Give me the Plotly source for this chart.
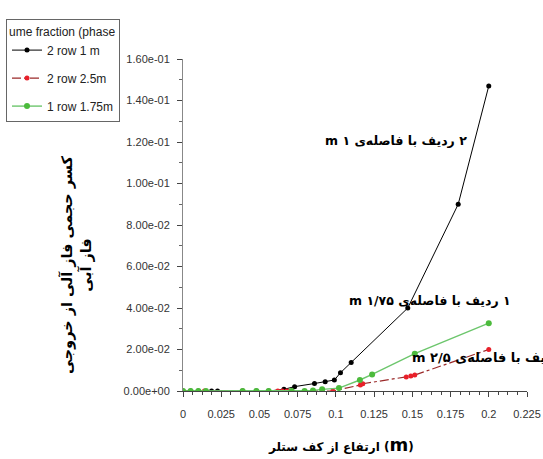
import plotly.graph_objects as go

# ---- data ----
x_black = [0, 0.005, 0.01, 0.0187, 0.0226, 0.039, 0.048, 0.056, 0.066, 0.073, 0.086, 0.093, 0.099, 0.103, 0.110, 0.147, 0.180, 0.200]
y_black = [0, 0, 0, 0, 0, 0, 0, 0, 0.0008, 0.0021, 0.0036, 0.0045, 0.0053, 0.0088, 0.0137, 0.040, 0.090, 0.147]

x_red = [0, 0.014, 0.039, 0.062, 0.065, 0.068, 0.071, 0.098, 0.116, 0.1176, 0.146, 0.149, 0.1516, 0.200]
y_red = [0, 0, 0, 0, 0, 0, 0, 0, 0.0029, 0.0035, 0.0068, 0.0072, 0.0077, 0.020]

x_green = [0, 0.005, 0.01, 0.015, 0.039, 0.048, 0.056, 0.071, 0.0795, 0.085, 0.091, 0.102, 0.1157, 0.1237, 0.1516, 0.200]
y_green = [0, 0, 0, 0, 0, 0, 0, 0, 0, 0.0003, 0.0008, 0.0014, 0.0053, 0.008, 0.018, 0.0327]

series_names = ["2 row 1 m", "2 row 2.5m", "1 row 1.75m"]
legend_title = "ume fraction (phase"

y_tickvals = [0, 0.02, 0.04, 0.06, 0.08, 0.10, 0.12, 0.14, 0.16]
y_ticktext = ["0.00e+00", "2.00e-02", "4.00e-02", "6.00e-02", "8.00e-02",
              "1.00e-01", "1.20e-01", "1.40e-01", "1.60e-01"]
x_tickvals = [0, 0.025, 0.05, 0.075, 0.1, 0.125, 0.15, 0.175, 0.2, 0.225]
x_ticktext = ["0", "0.025", "0.05", "0.075", "0.1", "0.125", "0.15", "0.175", "0.2", "0.225"]

label_1m = "۲ ردیف با فاصله‌ی ۱ m"
label_175 = "۱ ردیف با فاصله‌ی ۱/۷۵ m"
label_25 = "۲ ردیف با فاصله‌ی ۲/۵ m"
x_title_fa = "ارتفاع از کف ستلر"
x_title_unit = "m"
y_title = "کسر حجمی فاز آلی از خروجی<br>فاز آبی"

# ---- layout geometry ----
W, H = 543, 459
L, R, T, B = 183, 527, 59, 391
def px(x): return (x - L) / (R - L)
def py(y): return (B - y) / (B - T)

RLE, PDF = "\u202B", "\u202C"

fig = go.Figure()
fig.add_trace(go.Scatter(x=x_black, y=y_black, name=series_names[0], mode="lines+markers",
                         legendgroup="a",
                         line=dict(color="black", width=1),
                         marker=dict(color="black", size=5)))
fig.add_trace(go.Scatter(x=x_red, y=y_red, name=series_names[1], mode="lines+markers",
                         legendgroup="b",
                         line=dict(color="#9b2a2a", width=1.2, dash="dashdot"),
                         marker=dict(color="#e8202a", size=5)))
fig.add_trace(go.Scatter(x=x_green, y=y_green, name=series_names[2], mode="lines+markers",
                         legendgroup="c",
                         line=dict(color="#6cc66c", width=1.4),
                         marker=dict(color="#4cbb3c", size=6)))

ann_font = dict(family="DejaVu Sans", size=12.5, color="black")
x_title_text = ("<b>" + x_title_fa + " (<span style='font-size:18px'>" + x_title_unit + "</span>)</b>")
annotations = [
    dict(text="<b>" + RLE + label_1m + PDF + "</b>", x=px(469), y=py(140), xref="paper", yref="paper",
         xanchor="right", yanchor="middle", showarrow=False, font=ann_font),
    dict(text="<b>" + RLE + label_175 + PDF + "</b>", x=px(513), y=py(300), xref="paper", yref="paper",
         xanchor="right", yanchor="middle", showarrow=False, font=ann_font),
    dict(text="<b>" + RLE + label_25 + PDF + "</b>", x=px(410), y=py(357), xref="paper", yref="paper",
         xanchor="left", yanchor="middle", showarrow=False, font=dict(family="DejaVu Sans", size=13, color="black")),
    dict(text=x_title_text, x=px(341), y=py(444), xref="paper", yref="paper",
         xanchor="center", yanchor="middle", showarrow=False,
         font=dict(family="DejaVu Sans", size=12, color="black")),
    dict(text="<b>" + y_title + "</b>", x=px(76), y=py(265), xref="paper", yref="paper",
         xanchor="center", yanchor="middle", showarrow=False, textangle=-90,
         font=dict(family="DejaVu Sans", size=14.5, color="black")),
]

fig.update_layout(
    width=W, height=H,
    margin=dict(l=L, r=W - R, t=T, b=H - B, pad=0, autoexpand=False),
    paper_bgcolor="white", plot_bgcolor="white",
    showlegend=True,
    legend=dict(xref="container", yref="container", x=6 / W, y=1 - 19 / H,
                xanchor="left", yanchor="top",
                bgcolor="white", bordercolor="#666", borderwidth=1,
                font=dict(family="Liberation Sans", size=12, color="#222"),
                title=dict(text=legend_title, font=dict(family="Liberation Sans", size=12, color="#222")),
                tracegroupgap=9, itemwidth=30),
    annotations=annotations,
    font=dict(family="Liberation Sans", size=11, color="#333"),
)
fig.update_xaxes(range=[0, 0.225], tickvals=x_tickvals, ticktext=x_ticktext,
                 showgrid=False, zeroline=False, showline=True, linecolor="#444", linewidth=1,
                 ticks="outside", ticklen=5, tickcolor="#444", ticklabelstandoff=8,
                 ticklabeloverflow="allow", automargin=False,
                 tickfont=dict(family="Liberation Sans", size=11, color="#333"),
                 minor=dict(dtick=0.00625, tick0=0, ticks="outside", ticklen=3, tickcolor="#444"))
fig.update_yaxes(range=[0, 0.16], tickvals=y_tickvals, ticktext=y_ticktext,
                 showgrid=False, zeroline=False, showline=True, linecolor="#888", linewidth=1,
                 ticks="outside", ticklen=5, tickcolor="#444", ticklabelstandoff=5,
                 ticklabeloverflow="allow", automargin=False,
                 tickfont=dict(family="Liberation Sans", size=11, color="#333"),
                 minor=dict(dtick=0.01, tick0=0, ticks="outside", ticklen=3, tickcolor="#666"))

fig.write_html("out.html")
